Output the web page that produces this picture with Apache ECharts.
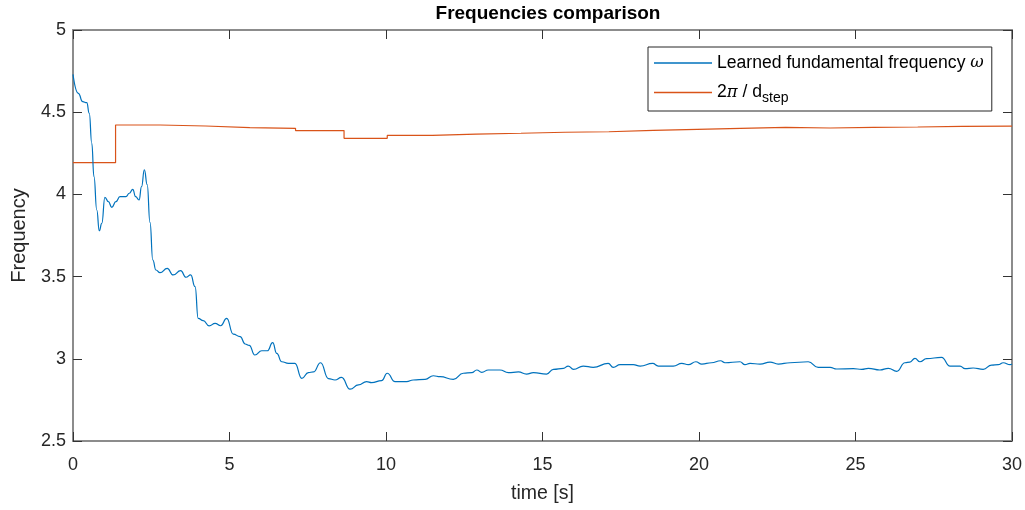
<!DOCTYPE html>
<html>
<head>
<meta charset="utf-8">
<script src="https://cdn.jsdelivr.net/npm/echarts@6/dist/echarts.min.js"></script>
<style>
  html, body { margin: 0; padding: 0; background: #fff; }
  #chart { width: 1025px; height: 510px; }
</style>
</head>
<body>
<div id="chart"></div>
<script>
// Learned fundamental frequency (rad/s) sampled over time [s]
const omegaTime = [0.00, 0.17, 0.31, 0.44, 0.52, 0.60, 0.67, 0.76, 0.84, 0.92, 1.02, 1.13, 1.24, 1.37, 1.50, 1.69, 1.80, 1.91, 2.00, 2.11, 2.19, 2.28, 2.37, 2.46, 2.55, 2.65, 2.78, 3.01, 3.20, 3.44, 3.61, 3.76, 3.90, 4.00, 4.16, 4.35, 4.54, 4.72, 4.91, 5.12, 5.34, 5.50, 5.63, 5.81, 6.03, 6.21, 6.38, 6.51, 6.67, 6.88, 7.09, 7.31, 7.52, 7.68, 7.91, 8.16, 8.37, 8.58, 8.85, 9.12, 9.38, 9.54, 9.86, 10.04, 10.29, 10.66, 10.87, 11.25, 11.51, 11.73, 12.15, 12.47, 12.74, 12.90, 13.06, 13.27, 13.64, 13.91, 14.23, 14.49, 14.71, 15.13, 15.35, 15.67, 15.82, 15.99, 16.30, 16.62, 17.10, 17.26, 17.48, 17.90, 18.12, 18.52, 18.70, 19.18, 19.45, 19.66, 19.90, 20.09, 20.40, 20.69, 20.83, 21.31, 21.47, 21.63, 21.95, 22.27, 22.53, 22.91, 23.49, 23.81, 24.19, 24.40, 24.93, 25.20, 25.41, 25.78, 26.05, 26.32, 26.58, 26.74, 26.90, 27.06, 27.27, 27.75, 28.02, 28.34, 28.50, 28.76, 29.08, 29.35, 29.56, 29.72, 29.94, 30.00];
const omegaValue = [4.730, 4.615, 4.564, 4.558, 4.493, 4.311, 4.108, 3.905, 3.779, 3.824, 3.982, 3.956, 3.921, 3.956, 3.986, 3.986, 4.007, 4.031, 3.986, 3.966, 4.047, 4.150, 4.060, 3.830, 3.601, 3.540, 3.524, 3.550, 3.510, 3.536, 3.496, 3.510, 3.439, 3.246, 3.232, 3.200, 3.216, 3.201, 3.246, 3.150, 3.135, 3.090, 3.082, 3.023, 3.049, 3.049, 3.098, 3.033, 2.982, 2.972, 2.972, 2.881, 2.916, 2.920, 2.976, 2.880, 2.871, 2.887, 2.815, 2.841, 2.861, 2.855, 2.867, 2.912, 2.861, 2.861, 2.871, 2.875, 2.897, 2.891, 2.875, 2.912, 2.916, 2.932, 2.918, 2.932, 2.932, 2.916, 2.920, 2.907, 2.916, 2.907, 2.936, 2.942, 2.956, 2.936, 2.956, 2.948, 2.972, 2.948, 2.964, 2.964, 2.956, 2.972, 2.956, 2.956, 2.972, 2.964, 2.982, 2.968, 2.976, 2.988, 2.976, 2.982, 2.964, 2.972, 2.968, 2.980, 2.968, 2.976, 2.982, 2.948, 2.948, 2.938, 2.940, 2.936, 2.942, 2.932, 2.942, 2.924, 2.976, 2.980, 3.003, 2.982, 3.001, 3.009, 2.956, 2.956, 2.940, 2.944, 2.936, 2.962, 2.964, 2.976, 2.964, 2.968];

// 2*pi / d_step: piecewise-constant, each value starts at the given time
const stepTime = [0, 1.36, 2.78, 4.24, 5.65, 7.11, 8.66, 10.04, 11.48, 12.88, 14.31, 15.72, 17.12, 18.54, 19.94, 21.33, 22.77, 24.19, 25.57, 26.99, 28.40, 30];
const stepValue = [4.193, 4.422, 4.416, 4.406, 4.402, 4.388, 4.341, 4.359, 4.367, 4.372, 4.378, 4.381, 4.390, 4.396, 4.402, 4.408, 4.404, 4.408, 4.410, 4.414, 4.415, 4.415];

const xTicks = { min: 0, max: 30, interval: 5 };
const yTicks = { min: 2.5, max: 5, interval: 0.5 };

const FONT = 'Liberation Sans';
const AXIS_TEXT = '#262626';

const omegaData = omegaTime.map((t, i) => [t, omegaValue[i]]);
const stepData = stepTime.map((t, i) => [t, stepValue[i]]);

const SERIES_OMEGA = 'Learned fundamental frequency ω';
const SERIES_STEP = '2π / d_step';

function frameAxis(extra) {
  return Object.assign({
    type: 'value',
    axisLine: { show: true, onZero: false, lineStyle: { color: '#8c8c8c', width: 2 } },
    axisTick: { show: true, inside: true, length: 9, lineStyle: { color: '#333', width: 1 } },
    splitLine: { show: false },
    axisLabel: { show: false }
  }, extra);
}

const chart = echarts.init(document.getElementById('chart'), null, { renderer: 'canvas' });
chart.setOption({
  animation: false,
  backgroundColor: '#fff',
  textStyle: { fontFamily: FONT },
  title: {
    text: 'Frequencies comparison',
    left: 543,
    top: -1,
    textAlign: 'center',
    textStyle: { fontFamily: FONT, fontWeight: 'bold', fontSize: 19, color: '#000' }
  },
  grid: { left: 73, right: 13, top: 30, bottom: 69, containLabel: false },
  legend: {
    orient: 'vertical',
    left: 648,
    top: 47,
    padding: [4, 8, 6, 6],
    itemGap: 5,
    itemWidth: 58,
    itemHeight: 1.5,
    icon: 'rect',
    borderColor: '#262626',
    borderWidth: 1,
    backgroundColor: '#fff',
    data: [SERIES_OMEGA, SERIES_STEP],
    textStyle: {
      fontFamily: FONT, fontSize: 17.6, color: '#000', lineHeight: 24,
      rich: {
        t: { fontFamily: FONT, fontSize: 17.6, color: '#000', lineHeight: 24 },
        g: { fontFamily: 'DejaVu Serif', fontStyle: 'italic', fontSize: 16.5, color: '#000', lineHeight: 24 },
        sub: { fontFamily: FONT, fontSize: 14, color: '#000', lineHeight: 24, padding: [11, 0, 0, 0] }
      }
    },
    formatter: function (name) {
      if (name === SERIES_OMEGA) return '{t|Learned fundamental frequency }{g|ω}';
      return '{t|2}{g|π}{t| / d}{sub|step}';
    }
  },
  xAxis: [
    Object.assign(frameAxis({ position: 'bottom' }), {
      min: xTicks.min, max: xTicks.max, interval: xTicks.interval,
      name: 'time [s]', nameLocation: 'middle', nameGap: 43,
      nameTextStyle: { fontFamily: FONT, fontSize: 19.5, color: AXIS_TEXT },
      axisLabel: { show: true, margin: 15, fontFamily: FONT, fontSize: 18, color: AXIS_TEXT }
    }),
    frameAxis({ position: 'top', min: xTicks.min, max: xTicks.max, interval: xTicks.interval })
  ],
  yAxis: [
    Object.assign(frameAxis({ position: 'left' }), {
      min: yTicks.min, max: yTicks.max, interval: yTicks.interval,
      name: 'Frequency', nameLocation: 'middle', nameGap: 44,
      nameTextStyle: { fontFamily: FONT, fontSize: 20, color: AXIS_TEXT },
      axisLabel: { show: true, margin: 7, fontFamily: FONT, fontSize: 18, color: AXIS_TEXT }
    }),
    frameAxis({ position: 'right', min: yTicks.min, max: yTicks.max, interval: yTicks.interval })
  ],
  series: [
    {
      name: SERIES_OMEGA,
      type: 'line',
      data: omegaData,
      showSymbol: false,
      smooth: 0.5,
      smoothMonotone: 'x',
      lineStyle: { color: '#0072BD', width: 1.2 },
      itemStyle: { color: '#0072BD' },
      z: 3
    },
    {
      name: SERIES_STEP,
      type: 'line',
      data: stepData,
      step: 'end',
      showSymbol: false,
      lineStyle: { color: '#D95319', width: 1.2 },
      itemStyle: { color: '#D95319' },
      z: 2
    }
  ]
});
</script>
</body>
</html>
